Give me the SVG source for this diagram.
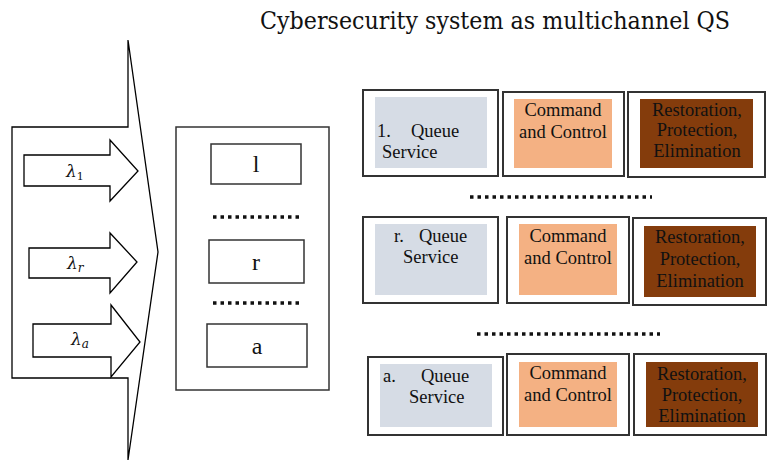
<svg xmlns="http://www.w3.org/2000/svg" width="767" height="462" viewBox="0 0 767 462">
<style>
.ln{fill:#fff;stroke:#000;stroke-width:1.3}
.bx{fill:#fff;stroke:#333;stroke-width:1.5}
.fr{fill:#fff;stroke:#333;stroke-width:2}
.g{fill:#D6DCE5}
.o{fill:#F4B183}
.b{fill:#843C0C}
.t{font-family:"Liberation Serif","Times New Roman",serif;font-size:18.5px;fill:#111}
.c{text-anchor:middle}
.dots{stroke:#111;stroke-width:3.5;stroke-dasharray:3.5 4;fill:none}
.lam{font-family:"DejaVu Serif","Liberation Serif",serif;font-style:italic;font-size:17px;fill:#111}
.big{font-family:"Liberation Serif",serif;font-size:24px;fill:#111;text-anchor:middle}
</style>
<rect width="767" height="462" fill="#fff"/>
<text x="260" y="29" font-family="DejaVu Serif, serif" font-size="24" textLength="470" lengthAdjust="spacingAndGlyphs" fill="#111">Cybersecurity system as multichannel QS</text>

<g id="input-arrow">
<path class="ln" d="M128,40 L158,252 L128,460 L128,378 L12,378 L12,127 L128,127 Z"/>
</g>
<g id="lambda-1">
<path class="ln" d="M24,155 L110,155 L110,140 L138,171 L110,201 L110,186 L24,186 Z"/>
<text class="lam" x="66" y="177">λ<tspan font-size="11" font-style="normal" dy="3">1</tspan></text>
</g>
<g id="lambda-r">
<path class="ln" d="M29,248 L110,248 L110,233 L137,262 L110,293 L110,278 L29,278 Z"/>
<text class="lam" x="67" y="269">λ<tspan font-size="12" dy="3">r</tspan></text>
</g>
<g id="lambda-a">
<path class="ln" d="M33,324 L111,324 L111,305 L140,342 L111,377 L111,357 L33,357 Z"/>
<text class="lam" x="71" y="345">λ<tspan font-size="12" dy="3">a</tspan></text>
</g>

<g id="channels">
<rect class="bx" x="176" y="127" width="153" height="263"/>
<line class="dots" x1="213" y1="217" x2="300" y2="217"/>
<line class="dots" x1="213" y1="303" x2="300" y2="303"/>
</g>
<g id="ch-1"><rect class="bx" x="211" y="144" width="90" height="40"/><text class="big" x="256" y="172">l</text></g>
<g id="ch-r"><rect class="bx" x="209" y="240" width="95" height="43"/><text class="big" x="256" y="270">r</text></g>
<g id="ch-a"><rect class="bx" x="207" y="324" width="100" height="43"/><text class="big" x="257" y="354">a</text></g>

<g id="row1-queue"><rect class="fr" x="363" y="90" width="135" height="86"/><rect class="g" x="375" y="97" width="112" height="71"/>
<text class="t" x="377" y="137">1.<tspan x="411">Queue</tspan></text><text class="t" x="382" y="158">Service</text></g>
<g id="row1-cc"><rect class="fr" x="503" y="92" width="121" height="84"/><rect class="o" x="514" y="99" width="98" height="69"/>
<text class="t c" x="563" y="116">Command</text><text class="t c" x="563" y="138">and Control</text></g>
<g id="row1-rpe"><rect class="fr" x="628" y="92" width="137" height="85"/><rect class="b" x="640" y="99" width="113" height="69"/>
<text class="t c" x="697" y="116">Restoration,</text><text class="t c" x="697" y="136">Protection,</text><text class="t c" x="697" y="157">Elimination</text></g>

<line class="dots" x1="470" y1="197" x2="652" y2="197"/>

<g id="rowr-queue"><rect class="fr" x="363" y="217" width="135" height="86"/><rect class="g" x="375" y="224" width="112" height="71"/>
<text class="t" x="394" y="242">r.<tspan x="419">Queue</tspan></text><text class="t" x="403" y="263">Service</text></g>
<g id="rowr-cc"><rect class="fr" x="507" y="217" width="122" height="86"/><rect class="o" x="519" y="224" width="98" height="71"/>
<text class="t c" x="568" y="242">Command</text><text class="t c" x="568" y="264">and Control</text></g>
<g id="rowr-rpe"><rect class="fr" x="633" y="218" width="133" height="87"/><rect class="b" x="644" y="226" width="112" height="71"/>
<text class="t c" x="700" y="243">Restoration,</text><text class="t c" x="700" y="265">Protection,</text><text class="t c" x="700" y="287">Elimination</text></g>

<line class="dots" x1="477" y1="334" x2="660" y2="334"/>

<g id="rowa-queue"><rect class="fr" x="368" y="357" width="135" height="78"/><rect class="g" x="380" y="364" width="112" height="63"/>
<text class="t" x="383" y="382">a.<tspan x="421">Queue</tspan></text><text class="t" x="409" y="403">Service</text></g>
<g id="rowa-cc"><rect class="fr" x="507" y="354" width="122" height="81"/><rect class="o" x="519" y="362" width="98" height="65"/>
<text class="t c" x="568" y="379">Command</text><text class="t c" x="568" y="401">and Control</text></g>
<g id="rowa-rpe"><rect class="fr" x="634" y="354" width="132" height="81"/><rect class="b" x="646" y="362" width="112" height="65"/>
<text class="t c" x="702" y="380">Restoration,</text><text class="t c" x="702" y="401">Protection,</text><text class="t c" x="702" y="422">Elimination</text></g>
</svg>
